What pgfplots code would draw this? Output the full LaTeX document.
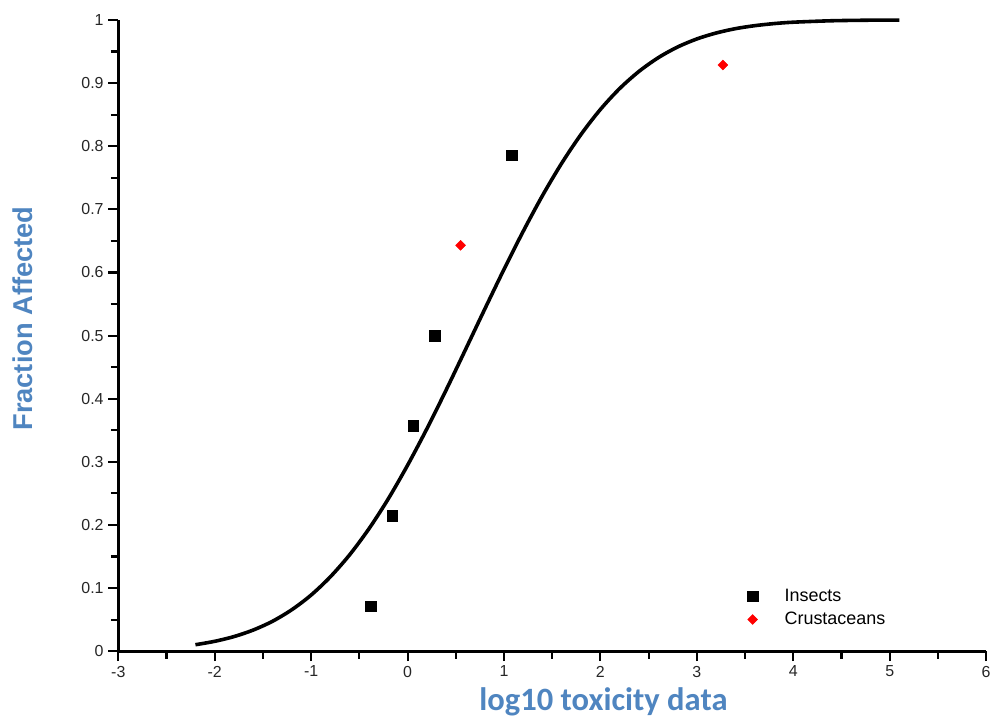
\documentclass[border=0pt]{standalone}
\usepackage{pgfplots}
\pgfplotsset{compat=1.18}
\usepackage{fontspec}
\setmainfont{Liberation Sans}
\newfontfamily\carlito{Carlito}
\definecolor{lblue}{RGB}{79,133,192}
\definecolor{mred}{RGB}{255,0,0}
\begin{document}
\begin{tikzpicture}
\begin{axis}[
  scale only axis,
  width=653pt, height=475pt,
  xmin=-3, xmax=6, ymin=0, ymax=1,
  axis lines=left,
  axis line style={-, line width=2.2pt},
  xtick={-3,-2,-1,0,1,2,3,4,5,6},
  ytick={0,0.1,0.2,0.3,0.4,0.5,0.6,0.7,0.8,0.9,1},
  minor x tick num=1,
  minor y tick num=1,
  tick align=outside,
  major tick length=7.5pt,
  minor tick length=5.5pt,
  every tick/.style={black, line width=1.6pt},
  /pgf/number format/assume math mode=true,
  tick label style={font=\fontsize{12}{13}\selectfont, text=black!85},
  yticklabel style={/pgf/number format/fixed, /pgf/number format/precision=1},
  xlabel={\carlito\bfseries log10 toxicity data},
  ylabel={\bfseries Fraction Affected},
  xlabel style={font=\fontsize{24.5}{26}\selectfont, text=lblue, inner sep=0pt, at={(axis description cs:0.559,0)}, anchor=north, yshift=-27.5pt},
  ylabel style={font=\fontsize{20.5}{22}\selectfont, text=lblue, inner sep=0pt, at={(axis description cs:0,0.527)}, anchor=south, yshift=64pt},
  legend style={draw=none, fill=none, at={(axis description cs:0.720,0.107)}, anchor=north west, font=\fontsize{13.5}{14}\selectfont, row sep=2.5pt, column sep=18pt},
  legend cell align=left,
  clip=false,
]
\addplot[black, line width=2.7pt, smooth, forget plot] coordinates {
(-2.2,0.0103) (-2.0,0.0157) (-1.8,0.0232) (-1.6,0.0336) (-1.4,0.0475)
(-1.2,0.0658) (-1.0,0.0890) (-0.8,0.1180) (-0.6,0.1529) (-0.4,0.1941)
(-0.2,0.2414) (0.0,0.2946) (0.2,0.3523) (0.4,0.4138) (0.6,0.4776)
(0.8,0.5418) (1.0,0.6049) (1.2,0.6654) (1.4,0.7220) (1.6,0.7734)
(1.8,0.8189) (2.0,0.8583) (2.2,0.8914) (2.4,0.9185) (2.6,0.9402)
(2.8,0.9571) (3.0,0.9699) (3.2,0.9793) (3.4,0.9862) (3.6,0.9909)
(3.8,0.9942) (4.0,0.9964) (4.4,0.9987) (4.8,0.9996) (5.1,0.9998)
};
\addplot[only marks, mark=square*, mark size=4pt, black] coordinates {
(-0.38,0.0714) (-0.16,0.2143) (0.06,0.3571) (0.28,0.5) (1.08,0.7857)
};
\addlegendentry{Insects}
\addplot[only marks, mark=square*, mark size=2.6pt, mred, every mark/.append style={rotate=45}] coordinates {
(0.55,0.6429) (3.27,0.9286)
};
\addlegendentry{Crustaceans}
\end{axis}
\path (current axis.south west) ++(-89pt,-51.5pt) coordinate (bbA);
\path (current axis.north east) ++(3.75pt,15pt) coordinate (bbB);
\path (bbA) (bbB);
\end{tikzpicture}
\end{document}
